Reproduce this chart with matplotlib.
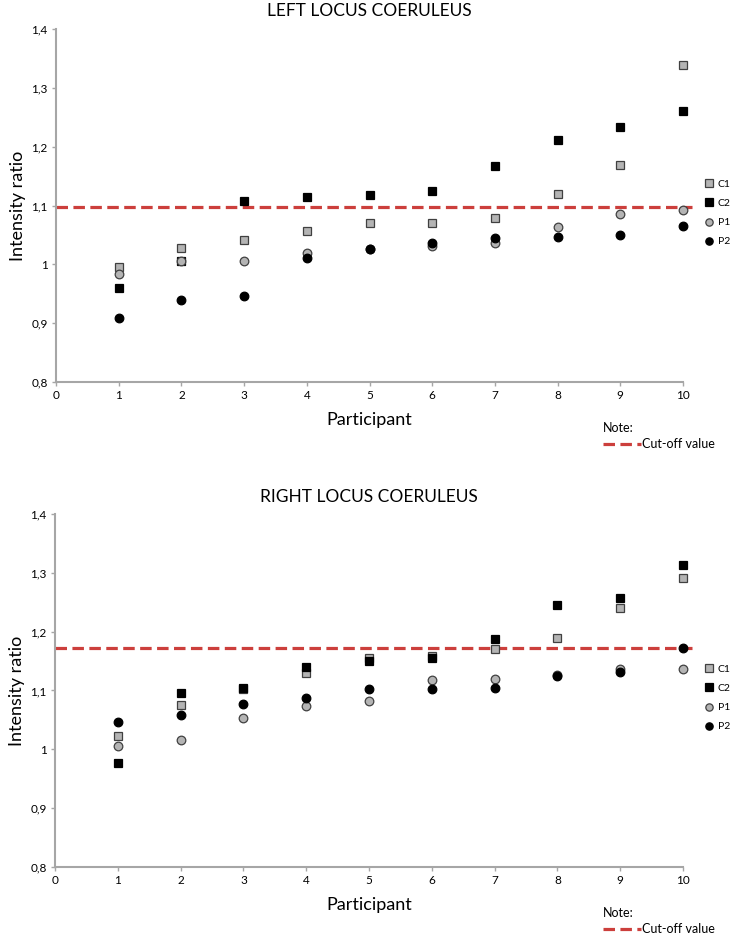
import matplotlib
matplotlib.use("Agg")
import matplotlib.pyplot as plt
from matplotlib.lines import Line2D

plt.rcParams['font.family'] = ['Lato', 'DejaVu Sans']

# Data
participants = [1, 2, 3, 4, 5, 6, 7, 8, 9, 10]

left_c1 = [0.995, 1.027, 1.042, 1.056, 1.070, 1.070, 1.078, 1.120, 1.168, 1.338]
left_c2 = [0.960, 1.006, 1.107, 1.115, 1.118, 1.124, 1.167, 1.211, 1.234, 1.260]
left_p1 = [0.984, 1.006, 1.006, 1.019, 1.026, 1.031, 1.036, 1.064, 1.085, 1.092]
left_p2 = [0.908, 0.939, 0.946, 1.011, 1.026, 1.036, 1.044, 1.046, 1.050, 1.066]
left_cutoff = 1.097

right_c1 = [1.023, 1.075, 1.102, 1.129, 1.155, 1.158, 1.171, 1.190, 1.241, 1.291]
right_c2 = [0.976, 1.096, 1.104, 1.140, 1.150, 1.155, 1.188, 1.246, 1.258, 1.314]
right_p1 = [1.006, 1.016, 1.054, 1.073, 1.082, 1.118, 1.120, 1.127, 1.137, 1.136]
right_p2 = [1.047, 1.058, 1.077, 1.087, 1.102, 1.102, 1.105, 1.124, 1.131, 1.173]
right_cutoff = 1.173

series_labels = ['C1', 'C2', 'P1', 'P2']
y_ticks = [0.8, 0.9, 1.0, 1.1, 1.2, 1.3, 1.4]
y_tick_labels = ['0,8', '0,9', '1', '1,1', '1,2', '1,3', '1,4']
x_ticks = [0, 1, 2, 3, 4, 5, 6, 7, 8, 9, 10]

GRAY = '#b4b4b4'
RED = '#cc3f3c'
SPINE = '#a6a6a6'

styles = [
    dict(marker='s', mfc=GRAY, mec='#404040'),
    dict(marker='s', mfc='black', mec='black'),
    dict(marker='o', mfc=GRAY, mec='#404040'),
    dict(marker='o', mfc='black', mec='black'),
]

fig = plt.figure(figsize=(7.31, 9.39), dpi=100)


def series_legend(ax, legend_y):
    return ax.legend(loc='center left', bbox_to_anchor=(704 / 731, legend_y),
                     bbox_transform=fig.transFigure, frameon=False, fontsize=7.5,
                     handlelength=1.0, handletextpad=0.3, labelspacing=0.95,
                     borderpad=0, borderaxespad=0, markerscale=0.85)


def draw_panel(rect, title, data, cutoff, legend_y, note_y):
    ax = fig.add_axes(rect)
    for vals, st, lab in zip(data, styles, series_labels):
        ax.plot(participants, vals, linestyle='none', markersize=6.2,
                markeredgewidth=0.9, label=lab, zorder=3, clip_on=False, **st)
    ax.plot([0, 10.15], [cutoff, cutoff], color=RED, lw=2.3,
            dashes=(3.6, 1.7), clip_on=False, zorder=2)

    ax.set_xlim(0, 10)
    ax.set_ylim(0.8, 1.4)
    ax.set_xticks(x_ticks)
    ax.set_yticks(y_ticks)
    ax.set_yticklabels(y_tick_labels)
    for s in ['top', 'right']:
        ax.spines[s].set_visible(False)
    for s in ['left', 'bottom']:
        ax.spines[s].set_color(SPINE)
        ax.spines[s].set_linewidth(1.5)
    ax.tick_params(axis='both', direction='out', length=3, width=1,
                   color=SPINE, labelsize=8.5, pad=3)
    ax.set_title(title, fontsize=12.5, pad=9)
    ax.set_ylabel('Intensity ratio', fontsize=13, labelpad=4)
    ax.set_xlabel('Participant', fontsize=13, labelpad=8)

    cut_handle = Line2D([], [], color=RED, lw=2.3, dashes=(3.6, 1.7))
    leg2 = ax.legend([cut_handle], ['Cut-off value'], title='Note:',
                     loc='upper left', bbox_to_anchor=(603 / 731, note_y),
                     bbox_transform=fig.transFigure, frameon=False,
                     fontsize=9, title_fontsize=9, alignment='left',
                     handlelength=3.0, handletextpad=0.1, borderpad=0,
                     borderaxespad=0, labelspacing=0.2)
    leg2._legend_box.sep = 3
    ax.add_artist(leg2)
    series_legend(ax, legend_y)
    return ax


draw_panel([56 / 731, 1 - 382 / 939, 627 / 731, 353 / 939],
           'LEFT LOCUS COERULEUS',
           [left_c1, left_c2, left_p1, left_p2], left_cutoff,
           1 - 213 / 939, 1 - 422 / 939)

draw_panel([55 / 731, 1 - 867 / 939, 628 / 731, 353 / 939],
           'RIGHT LOCUS COERULEUS',
           [right_c1, right_c2, right_p1, right_p2], right_cutoff,
           1 - 698 / 939, 1 - 907 / 939)

fig.savefig('out.png', dpi=100, facecolor='white')
